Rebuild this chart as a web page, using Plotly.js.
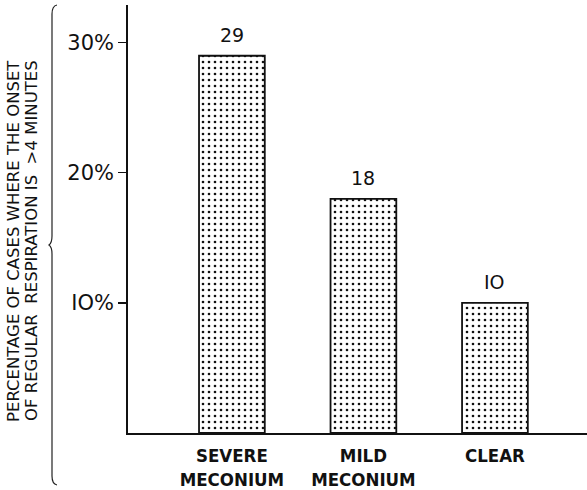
<!DOCTYPE html>
<html><head><meta charset="utf-8">
<script src="https://cdn.plot.ly/plotly-3.0.1.min.js"></script>
<style>html,body{margin:0;padding:0;background:#fff}</style>
</head><body><div id="chart" style="width:587px;height:490px"></div>
<script>
var categories = ["SEVERE<br>MECONIUM", "MILD<br>MECONIUM", "CLEAR"];
var values = [29, 18, 10];
var valueLabels = ["29", "18", "IO"];
var tickVals = [10, 20, 30];
var tickText = ["IO%", "20%", "30%"];
var titleLines = ["PERCENTAGE OF CASES WHERE THE ONSET", "OF REGULAR  RESPIRATION IS  >4 MINUTES"];

var W = 587, H = 490, L = 128, R = 0, T = 5, B = 57;
function px(x){ return (x - L) / (W - L - R); }
function py(y){ return (H - B - y) / (H - T - B); }
var path = "M" + px(57) + "," + py(5) +
  " Q" + px(52) + "," + py(6) + " " + px(52) + "," + py(14) +
  " L" + px(52) + "," + py(236) +
  " Q" + px(52) + "," + py(243) + " " + px(49) + "," + py(245) +
  " Q" + px(52) + "," + py(247) + " " + px(52) + "," + py(254) +
  " L" + px(52) + "," + py(476) +
  " Q" + px(52) + "," + py(484) + " " + px(57) + "," + py(485);

var trace = {
  type: "bar",
  x: [0, 1, 2],
  y: values,
  width: 0.5,
  marker: {
    color: "#fff",
    line: {color: "#111", width: 1.8},
    pattern: {shape: ".", fgcolor: "#111", bgcolor: "#fff", size: 6, solidity: 0.15}
  },
  hoverinfo: "none"
};

var annotations = values.map(function(v, i){
  return {x: i, y: v, xref: "x", yref: "y", text: valueLabels[i], showarrow: false,
    yanchor: "bottom", yshift: 8,
    font: {family: "DejaVu Sans", size: 19, color: "#111"}};
});
annotations.push({xref: "paper", yref: "paper", x: px(14), y: py(241), text: titleLines[0],
  showarrow: false, textangle: -90, xanchor: "center", yanchor: "middle",
  font: {family: "DejaVu Sans", size: 16.5, color: "#111"}});
annotations.push({xref: "paper", yref: "paper", x: px(32), y: py(241), text: titleLines[1],
  showarrow: false, textangle: -90, xanchor: "center", yanchor: "middle",
  font: {family: "DejaVu Sans", size: 16.5, color: "#111"}});

var layout = {
  width: W, height: H,
  margin: {l: L, r: R, t: T, b: B},
  paper_bgcolor: "#fff", plot_bgcolor: "#fff",
  showlegend: false,
  xaxis: {
    range: [-0.79, 2.70],
    tickvals: [0, 1, 2],
    ticktext: categories,
    ticks: "", ticklabelstandoff: 5,
    showline: true, linecolor: "#111", linewidth: 1.5,
    showgrid: false, zeroline: false,
    tickfont: {family: "DejaVu Sans Condensed", size: 18.5, color: "#111", weight: "bold"}
  },
  yaxis: {
    range: [0, 32.9],
    tickvals: tickVals,
    ticktext: tickText,
    ticks: "outside", ticklen: 8, tickwidth: 1.2, tickcolor: "#111",
    showline: true, linecolor: "#111", linewidth: 1.8,
    showgrid: false, zeroline: false,
    tickfont: {family: "DejaVu Sans", size: 21, color: "#111"}
  },
  annotations: annotations,
  shapes: [{
    type: "path", xref: "paper", yref: "paper", path: path,
    line: {color: "#222", width: 1.2}
  }]
};

Plotly.newPlot("chart", [trace], layout, {displayModeBar: false, staticPlot: true});
</script></body></html>
